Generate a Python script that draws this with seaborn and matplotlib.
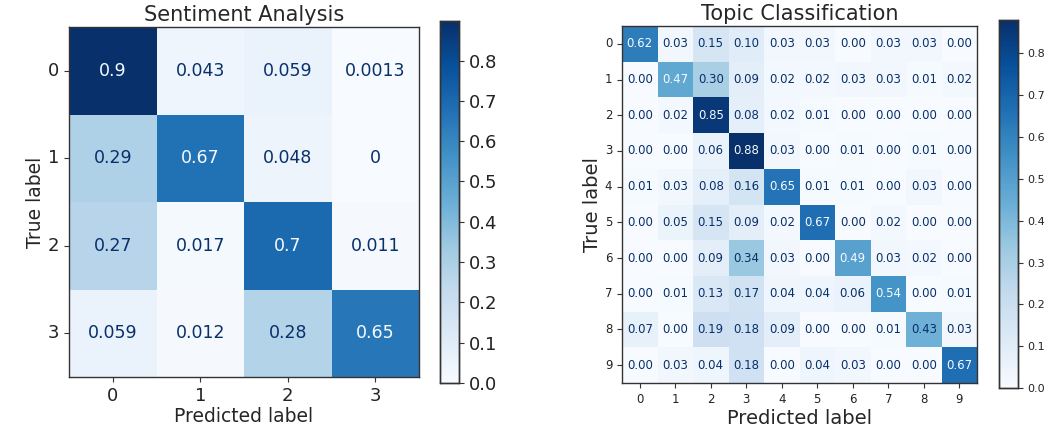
import numpy as np
import matplotlib
matplotlib.use("Agg")
import matplotlib.pyplot as plt
import seaborn as sns

sns.set_style("white")
plt.rcParams["font.family"] = ["DejaVu Sans"]

# sentiment analysis confusion matrix (normalized)
sent_labels = ["0", "1", "2", "3"]
sent_cm = np.array([
    [0.898, 0.043, 0.059, 0.0013],
    [0.29, 0.67, 0.048, 0.0],
    [0.27, 0.017, 0.7, 0.011],
    [0.059, 0.012, 0.28, 0.65],
])

# topic classification confusion matrix (normalized)
topic_labels = [str(i) for i in range(10)]
topic_cm = np.array([
    [0.62, 0.03, 0.15, 0.10, 0.03, 0.03, 0.00, 0.03, 0.03, 0.00],
    [0.00, 0.47, 0.30, 0.09, 0.02, 0.02, 0.03, 0.03, 0.01, 0.02],
    [0.00, 0.02, 0.85, 0.08, 0.02, 0.01, 0.00, 0.00, 0.00, 0.00],
    [0.00, 0.00, 0.06, 0.88, 0.03, 0.00, 0.01, 0.00, 0.01, 0.00],
    [0.01, 0.03, 0.08, 0.16, 0.65, 0.01, 0.01, 0.00, 0.03, 0.00],
    [0.00, 0.05, 0.15, 0.09, 0.02, 0.67, 0.00, 0.02, 0.00, 0.00],
    [0.00, 0.00, 0.09, 0.34, 0.03, 0.00, 0.49, 0.03, 0.02, 0.00],
    [0.00, 0.01, 0.13, 0.17, 0.04, 0.04, 0.06, 0.54, 0.00, 0.01],
    [0.07, 0.00, 0.19, 0.18, 0.09, 0.00, 0.00, 0.01, 0.43, 0.03],
    [0.00, 0.03, 0.04, 0.18, 0.00, 0.04, 0.03, 0.00, 0.00, 0.67],
])

cmap = plt.get_cmap("Blues")
W, H = 1063, 434


def box(x0, y0, x1, y1):
    return [x0 / W, 1 - y1 / H, (x1 - x0) / W, (y1 - y0) / H]


def draw_cm(ax, cax, cm, labels, fmt, title, fs_tick, fs_annot, fs_title, fs_label, fs_cbar):
    sns.heatmap(cm, ax=ax, cbar_ax=cax, cmap=cmap, vmin=0, vmax=cm.max(),
                annot=True, fmt=fmt, annot_kws={"fontsize": fs_annot},
                xticklabels=labels, yticklabels=labels)
    # sklearn-like text colors
    thresh = cm.max() / 2
    for t, v in zip(ax.texts, cm.flatten()):
        t.set_color(cmap(0.0) if v > thresh else cmap(1.0))
    for s in ax.spines.values():
        s.set_visible(True)
        s.set_color("#333333")
        s.set_linewidth(1.0)
    ax.tick_params(axis="both", which="both", length=3.5, width=0.8,
                   bottom=True, left=True, labelsize=fs_tick, color="#333333",
                   labelcolor="#222222")
    ax.set_yticklabels(labels, rotation=0)
    ax.set_xticklabels(labels, rotation=0)
    ax.set_title(title, fontsize=fs_title, pad=4)
    ax.set_xlabel("Predicted label", fontsize=fs_label, labelpad=2)
    ax.set_ylabel("True label", fontsize=fs_label, labelpad=2)
    cax.set_yticks(np.arange(0, 0.85, 0.1))
    cax.tick_params(labelsize=fs_cbar, length=3.5, width=0.8, color="#333333",
                    labelcolor="#222222")
    for s in cax.spines.values():
        s.set_visible(True)
        s.set_color("#333333")
        s.set_linewidth(1.0)


fig = plt.figure(figsize=(10.63, 4.34), dpi=100)

ax1 = fig.add_axes(box(69, 27, 419, 377))
cax1 = fig.add_axes(box(440, 21, 459, 383))
draw_cm(ax1, cax1, sent_cm, sent_labels, ".2g", "Sentiment Analysis",
        13, 12.5, 15, 13.5, 13)

ax2 = fig.add_axes(box(622, 26, 977, 383))
cax2 = fig.add_axes(box(999, 20, 1018, 388))
draw_cm(ax2, cax2, topic_cm, topic_labels, ".2f", "Topic Classification",
        8.5, 8.5, 15, 14, 8)

fig.savefig("out.png", dpi=100)
